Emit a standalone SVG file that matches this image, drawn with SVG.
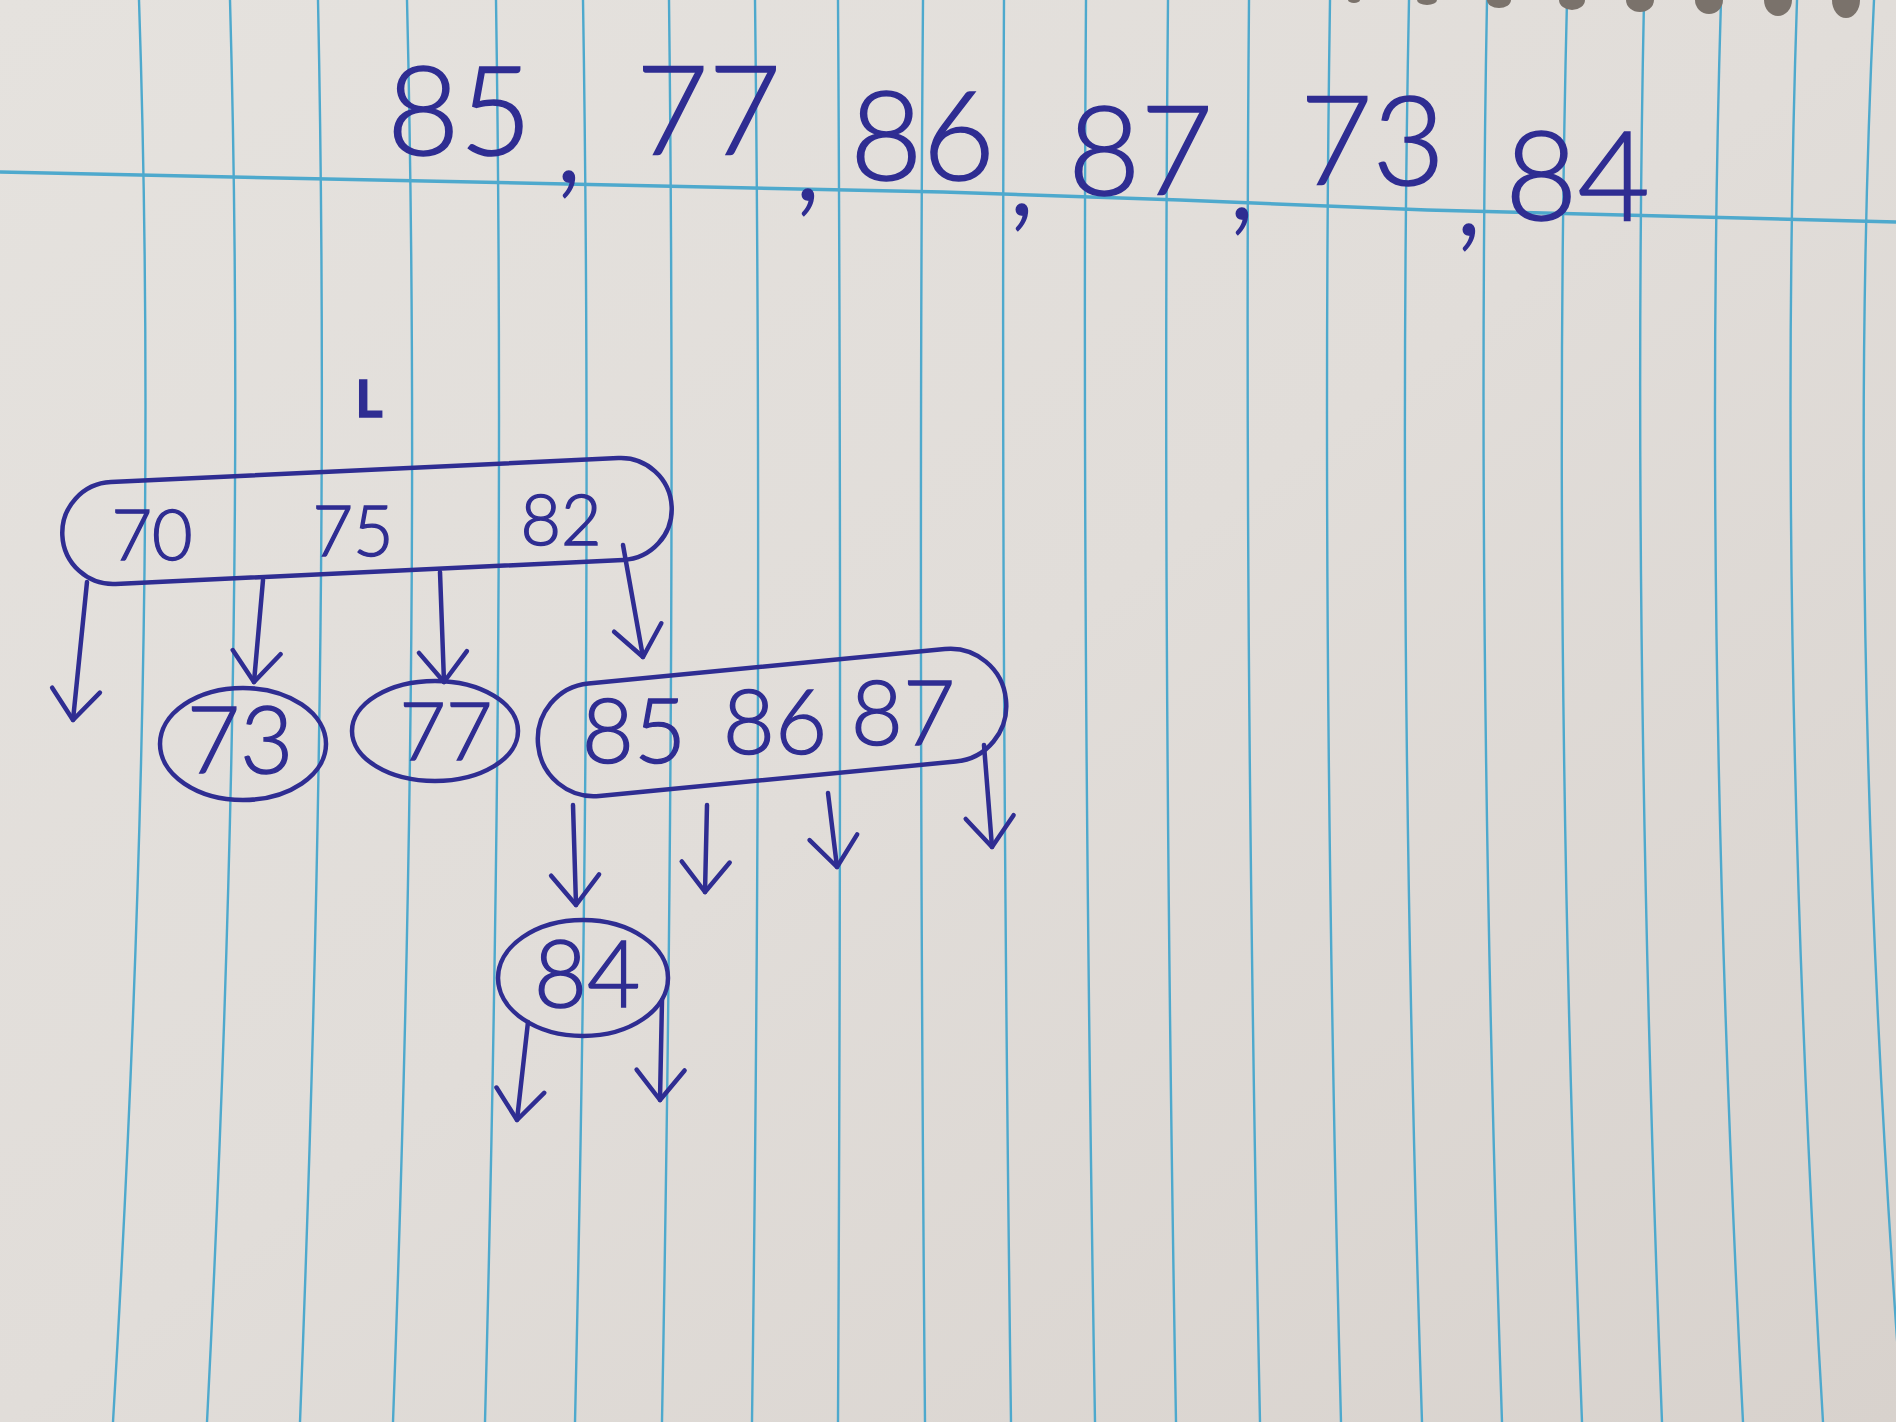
<svg xmlns="http://www.w3.org/2000/svg" width="1896" height="1422" viewBox="0 0 1896 1422">
<style>
.ink{fill:none;stroke:#2f2d92;stroke-width:4.5;stroke-linecap:round;stroke-linejoin:round}
.txt{fill:#2f2d92;stroke:#2f2d92;stroke-width:1.4;font-family:"Lato","Inter","Open Sans","Liberation Sans",sans-serif;font-weight:300;text-anchor:middle}
.title{fill:#2f2d92;stroke:#2f2d92;stroke-width:1.6;font-family:"Lato","Inter","Open Sans","Liberation Sans",sans-serif;font-weight:300;font-size:125px}
.rule{fill:none;stroke:#4ea9cd;stroke-width:2.4}
.hole{fill:#7a726b}
</style>
<defs>
<linearGradient id="paper" x1="0" y1="0" x2="1" y2="1">
<stop offset="0" stop-color="#e5e2de"/>
<stop offset="0.5" stop-color="#e1ddd9"/>
<stop offset="1" stop-color="#d8d2cd"/>
</linearGradient>
<marker id="arr" markerUnits="userSpaceOnUse" markerWidth="60" markerHeight="60" viewBox="-50 -30 60 60" refX="0" refY="0" orient="auto" overflow="visible">
<path d="M-30,-24 L0,0 L-30,24" fill="none" stroke="#2f2d92" stroke-width="4.5" stroke-linecap="round" stroke-linejoin="round"/>
</marker>
</defs>
<g id="paper-bg">
<rect x="0" y="0" width="1896" height="1422" fill="url(#paper)"/>
<g class="rule">
<path d="M139,0 Q160,629 113,1422"/>
<path d="M230,0 Q247.5,629 207,1422"/>
<path d="M318,0 Q331,629 300,1422"/>
<path d="M407,0 Q422,629 393,1422"/>
<path d="M496,0 Q505.5,629 485,1422"/>
<path d="M583,0 Q593,629 575,1422"/>
<path d="M669,0 Q676.5,629 662,1422"/>
<path d="M755,0 Q762.5,629 752,1422"/>
<path d="M838,0 Q842,629 838,1422"/>
<path d="M923,0 Q918,629 925,1422"/>
<path d="M1004,0 Q1000.5,629 1011,1422"/>
<path d="M1086,0 Q1081.5,629 1095,1422"/>
<path d="M1168,0 Q1162,629 1176,1422"/>
<path d="M1249,0 Q1243.5,629 1260,1422"/>
<path d="M1330,0 Q1320.5,629 1341,1422"/>
<path d="M1409,0 Q1396.5,629 1422,1422"/>
<path d="M1487,0 Q1475.5,629 1502,1422"/>
<path d="M1567,0 Q1551.5,629 1582,1422"/>
<path d="M1644,0 Q1631,629 1662,1422"/>
<path d="M1721,0 Q1702,629 1743,1422"/>
<path d="M1797,0 Q1776,629 1823,1422"/>
<path d="M1874,0 Q1843.5,629 1903,1422"/>
<path d="M0,172 L943,192 L1180,200 L1427,210 L1896,222" stroke-width="3.5"/>
</g>
<g>
<ellipse class="hole" cx="1354" cy="0" rx="6" ry="3"/>
<ellipse class="hole" cx="1427" cy="0" rx="10" ry="5"/>
<ellipse class="hole" cx="1499" cy="0" rx="12" ry="8"/>
<ellipse class="hole" cx="1572" cy="0" rx="13" ry="10"/>
<ellipse class="hole" cx="1640" cy="0" rx="14" ry="12"/>
<ellipse class="hole" cx="1709" cy="0" rx="14" ry="14"/>
<ellipse class="hole" cx="1778" cy="0" rx="14" ry="16"/>
<ellipse class="hole" cx="1846" cy="0" rx="14" ry="18"/>
</g>
</g>
<g id="sequence">
<text class="title"><tspan x="387" y="155">85</tspan><tspan x="555" y="182">,</tspan><tspan x="636" y="155">77</tspan><tspan x="794" y="200">,</tspan><tspan x="850" y="180">86</tspan><tspan x="1008" y="215">,</tspan><tspan x="1068" y="195">87</tspan><tspan x="1228" y="219">,</tspan><tspan x="1300" y="185">73</tspan><tspan x="1455" y="235">,</tspan><tspan x="1505" y="220">84</tspan></text>
</g>
<g id="label-L">
<text class="txt" x="369" y="417" font-size="52" style="font-weight:bold">L</text>
</g>
<g id="node-root">
<rect class="ink" x="-305" y="-51" width="610" height="102" rx="51" ry="51" transform="translate(367,521) rotate(-2.7)"/>
<text class="txt" x="152" y="560" font-size="70">70</text>
<text class="txt" x="353" y="556" font-size="70">75</text>
<text class="txt" x="561" y="545" font-size="70">82</text>
</g>
<g id="node-73">
<ellipse class="ink" cx="243" cy="744" rx="83" ry="56"/>
<text class="txt" x="240" y="773" font-size="92">73</text>
</g>
<g id="node-77">
<ellipse class="ink" cx="435" cy="731" rx="83" ry="50"/>
<text class="txt" x="446" y="760" font-size="80">77</text>
</g>
<g id="node-858687">
<rect class="ink" x="-235" y="-56" width="470" height="113" rx="56" ry="56" transform="translate(772,722) rotate(-5.5)"/>
<text class="txt" x="634" y="763" font-size="90">85</text>
<text class="txt" x="775" y="754" font-size="90">86</text>
<text class="txt" x="903" y="745" font-size="90">87</text>
</g>
<g id="node-84">
<ellipse class="ink" cx="583" cy="978" rx="85" ry="58"/>
<text class="txt" x="587" y="1007" font-size="92">84</text>
</g>
<g id="connectors" class="ink">
<path d="M87,582 L73,720" marker-end="url(#arr)"/>
<path d="M263,580 L254,682" marker-end="url(#arr)"/>
<path d="M440,572 L444,682" marker-end="url(#arr)"/>
<path d="M623,545 L643,657" marker-end="url(#arr)"/>
<path d="M573,805 L576,905" marker-end="url(#arr)"/>
<path d="M707,805 L705,892" marker-end="url(#arr)"/>
<path d="M828,793 L837,867" marker-end="url(#arr)"/>
<path d="M984,745 L992,847" marker-end="url(#arr)"/>
<path d="M528,1022 L517,1120" marker-end="url(#arr)"/>
<path d="M662,1000 L660,1100" marker-end="url(#arr)"/>
</g>
</svg>
